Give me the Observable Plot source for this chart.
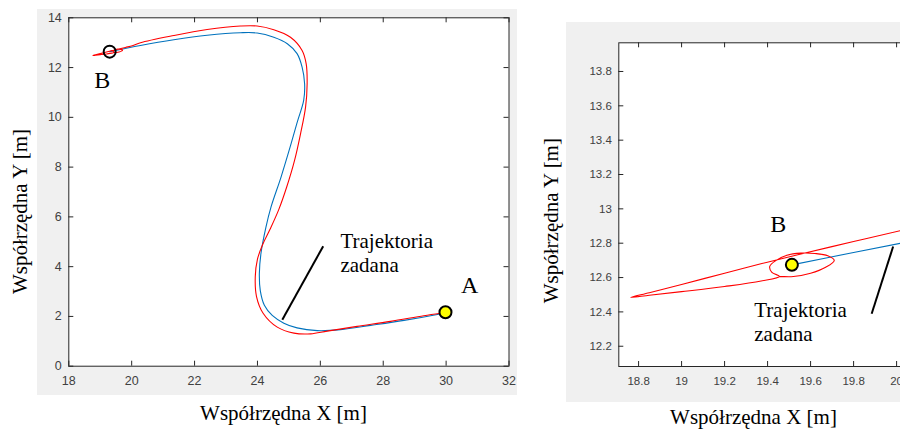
<!DOCTYPE html>
<html><head><meta charset="utf-8">
<script src="https://cdn.jsdelivr.net/npm/d3@7"></script>
<script src="https://cdn.jsdelivr.net/npm/@observablehq/plot@0.6"></script>
<style>
html,body{margin:0;padding:0;background:#fff}
#wrap{position:relative;width:900px;height:429px;overflow:hidden}
.bg{position:absolute;background:#f0f0f0}
.panel{position:absolute;top:0}
.panel svg{max-width:none;display:block}
</style></head><body>
<div id="wrap">
<div class="bg" style="left:37px;top:9px;width:480px;height:386px"></div>
<div class="bg" style="left:566px;top:22px;width:340px;height:380px"></div>
<div class="panel" id="left" style="left:0;width:530px"></div>
<div class="panel" id="right" style="left:530px;width:400px"></div>
</div>
<script>
// ---------- data ----------
const xTitle = "Współrzędna X [m]";
const yTitle = "Współrzędna Y [m]";
const noteText = "Trajektoria\nzadana";

// left panel (full trajectory)
const leftXTicks = [18, 20, 22, 24, 26, 28, 30, 32];
const leftYTicks = [0, 2, 4, 6, 8, 10, 12, 14];
const leftBlueX = [19.30, 20.28, 21.34, 22.40, 23.46, 23.99, 24.52, 24.95, 25.26, 25.42, 25.50, 25.47, 25.28, 25.07, 24.75, 24.43, 24.27, 24.11, 24.06, 24.09, 24.22, 24.47, 24.84, 25.26, 25.90, 26.64, 27.60, 28.66, 29.72, 29.98];
const leftBlueY = [12.64, 12.89, 13.12, 13.30, 13.40, 13.39, 13.22, 12.96, 12.56, 12.02, 11.35, 10.68, 9.87, 8.94, 7.60, 6.39, 5.59, 4.52, 3.71, 3.04, 2.45, 2.04, 1.73, 1.54, 1.43, 1.47, 1.64, 1.84, 2.08, 2.15];
const leftRedX = [19.455, 19.52, 19.60, 19.67, 19.71, 19.68, 19.62, 19.555, 19.49, 19.44, 19.41, 19.42, 19.455, 19.37, 19.2, 19.0, 18.85, 18.764, 18.85, 19.0, 19.2, 19.369, 19.555, 19.8, 20.02, 20.28, 21.34, 22.40, 23.46, 23.99, 24.52, 25.05, 25.42, 25.55, 25.58, 25.53, 25.37, 25.18, 24.93, 24.68, 24.40, 24.17, 24.0, 23.93, 23.97, 24.18, 24.63, 25.16, 25.69, 26.22, 27.17, 28.23, 29.29, 29.82];
const leftRedY = [12.607, 12.606, 12.625, 12.66, 12.70, 12.727, 12.74, 12.742, 12.73, 12.70, 12.665, 12.63, 12.607, 12.58, 12.548, 12.518, 12.497, 12.485, 12.512, 12.56, 12.625, 12.68, 12.737, 12.81, 12.874, 13.0, 13.29, 13.53, 13.67, 13.67, 13.52, 13.22, 12.69, 12.15, 11.35, 10.41, 9.34, 8.27, 7.2, 6.3, 5.5, 4.9, 4.3, 3.58, 2.8, 2.13, 1.57, 1.33, 1.30, 1.41, 1.60, 1.80, 2.03, 2.13];
const leftDotX = [29.98, 19.30];
const leftDotY = [2.17, 12.64];
const leftDotFill = ["#ffff00", "none"];
const leftLabels = ["A", "B"];
const leftLabelX = [30.75, 19.06];
const leftLabelY = [3.24, 11.50];
const leftNoteLineX = [26.09, 24.79];
const leftNoteLineY = [4.82, 1.865];
const leftNoteX = 26.64, leftNoteY = 4.58;

// right panel (zoom near B)
const zoomXTicks = [18.8, 19, 19.2, 19.4, 19.6, 19.8, 20];
const zoomYTicks = [12.2, 12.4, 12.6, 12.8, 13, 13.2, 13.4, 13.6, 13.8];
const zoomBlueX = [19.513, 19.8, 20.02, 20.15];
const zoomBlueY = [12.674, 12.746, 12.80, 12.833];
const zoomRedX = [19.455, 19.52, 19.60, 19.67, 19.71, 19.68, 19.62, 19.555, 19.49, 19.44, 19.41, 19.42, 19.455, 19.37, 19.2, 19.0, 18.85, 18.764, 18.85, 19.0, 19.2, 19.369, 19.555, 19.8, 20.02, 20.15];
const zoomRedY = [12.607, 12.606, 12.625, 12.66, 12.70, 12.727, 12.74, 12.742, 12.73, 12.70, 12.665, 12.63, 12.607, 12.58, 12.548, 12.518, 12.497, 12.485, 12.512, 12.56, 12.625, 12.68, 12.737, 12.81, 12.874, 12.913];
const zoomDotX = [19.513];
const zoomDotY = [12.674];
const zoomDotFill = ["#ffff00"];
const zoomLabels = ["B"];
const zoomLabelX = [19.449];
const zoomLabelY = [12.909];
const zoomNoteLineX = [19.984, 19.884];
const zoomNoteLineY = [12.781, 12.389];
const zoomNoteX = 19.338, zoomNoteY = 12.345;

// ---------- drawing ----------
const serif = "'Liberation Serif','Times New Roman',Times,serif";
const sans = "'Liberation Sans',Arial,Helvetica,sans-serif";
const axisColor = "#262626";
const tickColor = "#404040";
const rows = (xs, ys) => xs.map((x, i) => ({x, y: ys[i]}));

function makePanel(o) {
  const fw = o.width - o.ml - o.mr;
  const fh = o.height - o.mt - o.mb;
  const dots = o.dotX.map((x, i) => ({x, y: o.dotY[i], fill: o.dotFill[i]}));
  const labels = o.labels.map((t, i) => ({t, x: o.labelX[i], y: o.labelY[i]}));
  return Plot.plot({
    width: o.width, height: o.height,
    marginLeft: o.ml, marginRight: o.mr, marginTop: o.mt, marginBottom: o.mb,
    style: {background: "transparent", maxWidth: "none", overflow: "visible"},
    x: {domain: o.xDomain},
    y: {domain: o.yDomain},
    marks: [
      Plot.frame({fill: "white"}),
      Plot.line(rows(o.blueX, o.blueY), {x: "x", y: "y", stroke: "#0072BD", strokeWidth: 1.1, curve: "catmull-rom", clip: true}),
      Plot.line(rows(o.redX, o.redY), {x: "x", y: "y", stroke: "#ff0000", strokeWidth: 1.1, curve: "catmull-rom", clip: true}),
      Plot.tickX(o.xTicks, {x: d => d, insetTop: fh - 5, stroke: axisColor}),
      Plot.tickX(o.xTicks, {x: d => d, insetBottom: fh - 5, stroke: axisColor}),
      Plot.tickY(o.yTicks, {y: d => d, insetRight: fw - 5, stroke: axisColor}),
      Plot.tickY(o.yTicks, {y: d => d, insetLeft: fw - 5, stroke: axisColor}),
      Plot.frame({stroke: axisColor, strokeWidth: 1}),
      Plot.axisX({ticks: o.xTicks, anchor: "bottom", tickSize: 0, tickPadding: 10, tickFormat: d => String(d),
        fontSize: o.tickFont, fontFamily: sans, color: tickColor, label: null}),
      Plot.axisY({ticks: o.yTicks, anchor: "left", tickSize: 0, tickPadding: 7, tickFormat: d => String(d),
        fontSize: o.tickFont, fontFamily: sans, color: tickColor, label: null}),
      Plot.link([0], {x1: () => o.noteLineX[0], y1: () => o.noteLineY[0], x2: () => o.noteLineX[1], y2: () => o.noteLineY[1],
        stroke: "black", strokeWidth: 2}),
      Plot.dot(dots, {x: "x", y: "y", r: 6, fill: "fill", stroke: "black", strokeWidth: 2}),
      Plot.text(labels, {x: "x", y: "y", text: "t", fontFamily: serif, fontSize: 24, fill: "black",
        textAnchor: "middle", lineAnchor: "middle"}),
      Plot.text([noteText], {x: () => o.noteX, y: () => o.noteY, text: d => d, fontFamily: serif, fontSize: 21,
        fill: "black", textAnchor: "start", lineAnchor: "middle", lineHeight: 1.15}),
      Plot.text([xTitle], {frameAnchor: "bottom-left", dx: o.xtDx, dy: o.xtDy, text: d => d, fontFamily: serif,
        fontSize: 21, fill: "black", textAnchor: "middle", lineAnchor: "middle"}),
      Plot.text([yTitle], {frameAnchor: "left", rotate: -90, dx: o.ytDx, dy: o.ytDy, text: d => d, fontFamily: serif,
        fontSize: 21, fill: "black", textAnchor: "middle", lineAnchor: "middle"})
    ]
  });
}

document.getElementById("left").append(makePanel({
  width: 530, height: 429, ml: 68.3, mr: 21.5, mt: 17.3, mb: 63.3,
  xDomain: [18, 32], yDomain: [0, 14], xTicks: leftXTicks, yTicks: leftYTicks, tickFont: 12.5,
  blueX: leftBlueX, blueY: leftBlueY, redX: leftRedX, redY: leftRedY,
  dotX: leftDotX, dotY: leftDotY, dotFill: leftDotFill,
  labels: leftLabels, labelX: leftLabelX, labelY: leftLabelY,
  noteLineX: leftNoteLineX, noteLineY: leftNoteLineY, noteX: leftNoteX, noteY: leftNoteY,
  xtDx: 214.7, xtDy: 47.3, ytDx: -48.8, ytDy: 19.5
}));

document.getElementById("right").append(makePanel({
  width: 400, height: 429, ml: 88.3, mr: 12.4, mt: 42.3, mb: 63,
  xDomain: [18.708, 20.1], yDomain: [12.082, 13.967], xTicks: zoomXTicks, yTicks: zoomYTicks, tickFont: 11.5,
  blueX: zoomBlueX, blueY: zoomBlueY, redX: zoomRedX, redY: zoomRedY,
  dotX: zoomDotX, dotY: zoomDotY, dotFill: zoomDotFill,
  labels: zoomLabels, labelX: zoomLabelX, labelY: zoomLabelY,
  noteLineX: zoomNoteLineX, noteLineY: zoomNoteLineY, noteX: zoomNoteX, noteY: zoomNoteY,
  xtDx: 134.7, xtDy: 50.7, ytDx: -67.6, ytDy: 16
}));
</script>
</body></html>
